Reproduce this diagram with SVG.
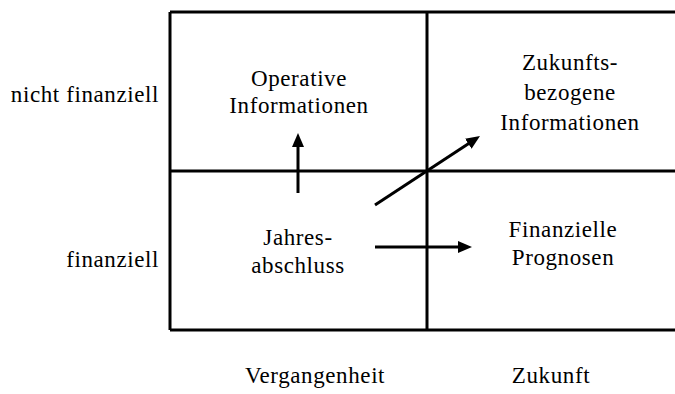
<svg xmlns="http://www.w3.org/2000/svg" width="675" height="394" viewBox="0 0 675 394">
<defs>
<style>
.t{font-family:"Liberation Serif","Times New Roman",serif;font-size:23px;letter-spacing:0.6px;fill:#000;text-anchor:middle}
.r{text-anchor:end}
.g{stroke:#000;stroke-width:3;fill:none}
.a{stroke:#000;stroke-width:3;fill:none}
</style>
<marker id="ah" markerUnits="userSpaceOnUse" markerWidth="16" markerHeight="14" refX="6" refY="6" orient="auto">
<path d="M0,0 L14,6 L0,12 z" fill="#000"/>
</marker>
</defs>
<rect width="675" height="394" fill="#fff"/>
<g id="grid">
<path class="g" d="M170,12 H690 M170,171 H690 M170,330 H690 M170,12 V330 M427,12 V330"/>
</g>
<g id="labels">
<text class="t r" x="159" y="102">nicht finanziell</text>
<text class="t r" x="159" y="267">finanziell</text>
<text class="t" x="315" y="383">Vergangenheit</text>
<text class="t" x="551" y="383">Zukunft</text>
</g>
<g id="operative">
<text class="t" x="299" y="86">Operative</text>
<text class="t" x="299" y="113">Informationen</text>
</g>
<g id="zukunft">
<text class="t" x="570" y="70">Zukunfts-</text>
<text class="t" x="570" y="100">bezogene</text>
<text class="t" x="570" y="130">Informationen</text>
</g>
<g id="jahresabschluss">
<text class="t" x="298" y="245">Jahres-</text>
<text class="t" x="298" y="273">abschluss</text>
</g>
<g id="prognosen">
<text class="t" x="563" y="237">Finanzielle</text>
<text class="t" x="563" y="265">Prognosen</text>
</g>
<g id="connectors">
<line class="a" x1="298" y1="193" x2="298" y2="141" marker-end="url(#ah)"/>
<line class="a" x1="375" y1="205" x2="473.3" y2="140.4" marker-end="url(#ah)"/>
<line class="a" x1="375" y1="247" x2="464" y2="247" marker-end="url(#ah)"/>
</g>
</svg>
